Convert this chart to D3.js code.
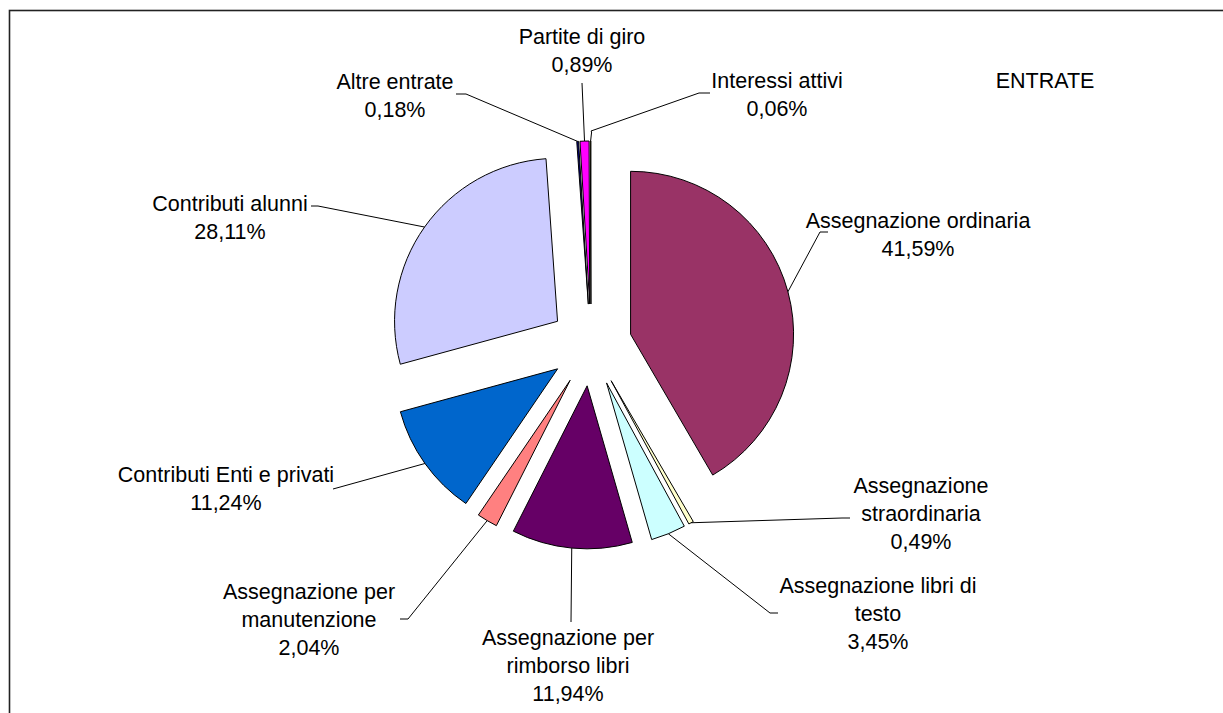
<!DOCTYPE html>
<html>
<head>
<meta charset="utf-8">
<script src="https://cdn.jsdelivr.net/npm/d3@7"></script>
<style>
    body { margin: 0; background: #fff; }
    svg { display: block; }
    text { font-family: "Liberation Sans", Arial, sans-serif; font-size: 21.5px; fill: #000; }
</style>
</head>
<body>
<svg id="chart" width="1223" height="713"></svg>
<script>

// slices, clockwise from 12 o'clock
var categories = [
    'Assegnazione ordinaria',
    'Assegnazione straordinaria',
    'Assegnazione libri di testo',
    'Assegnazione per rimborso libri',
    'Assegnazione per manutenzione',
    'Contributi Enti e privati',
    'Contributi alunni',
    'Altre entrate',
    'Partite di giro',
    'Interessi attivi'
];

var percentages = [41.59, 0.49, 3.45, 11.94, 2.04, 11.24, 28.11, 0.18, 0.89, 0.06];

var percentLabels = ['41,59%', '0,49%', '3,45%', '11,94%', '2,04%', '11,24%', '28,11%', '0,18%', '0,89%', '0,06%'];

// label text as it wraps in the picture
var labelLines = [
    ['Assegnazione ordinaria'],
    ['Assegnazione', 'straordinaria'],
    ['Assegnazione libri di', 'testo'],
    ['Assegnazione per', 'rimborso libri'],
    ['Assegnazione per', 'manutenzione'],
    ['Contributi Enti e privati'],
    ['Contributi alunni'],
    ['Altre entrate'],
    ['Partite di giro'],
    ['Interessi attivi']
];

var colors = ['#993366', '#FFFFCC', '#CCFFFF', '#660066', '#FF8080', '#0066CC', '#CCCCFF', '#000080', '#FF00FF', '#FFFF00'];

var chartTitle = 'ENTRATE';

// layout
var cx = 591, cy = 345, radius = 163, explode = 41;
var lineH = 28;

// label placement: text centre x, first baseline, leader start (near text)
var labelLayout = [
    { x: 918, y: 228, lead: [[828, 232], [820, 232]] },
    { x: 921, y: 493, lead: [[850, 518], [842, 518]] },
    { x: 878, y: 593, lead: [[778, 613], [770, 613]] },
    { x: 568, y: 645, lead: [[571, 622]] },
    { x: 309, y: 599, lead: [[400, 619], [408, 619]] },
    { x: 226, y: 482, lead: [[333, 489]] },
    { x: 230, y: 211, lead: [[311, 206], [318, 206]] },
    { x: 395, y: 89,  lead: [[456, 94], [466, 94]] },
    { x: 582, y: 44,  lead: [[582, 83]] },
    { x: 777, y: 88,  lead: [[710, 93], [699, 93], [591, 131]] }
];

var svg = d3.select('#chart');

// frame, runs off the right and bottom edge
svg.append('rect')
    .attr('x', 9.5)
    .attr('y', 10.5)
    .attr('width', 1400)
    .attr('height', 900)
    .attr('fill', 'none')
    .attr('stroke', '#222')
    .attr('stroke-width', 1.6);

var pie = d3.pie()
    .sort(null)
    .startAngle(0)
    .endAngle(2 * Math.PI)
    .value(function(d) { return d; });

var arcs = pie(percentages);

var arc = d3.arc()
    .innerRadius(0)
    .outerRadius(radius);

var midAngle = function(d) {
    return (d.startAngle + d.endAngle) / 2;
};

var offsetOf = function(d, dist) {
    var a = midAngle(d);
    return [Math.sin(a) * dist, -Math.cos(a) * dist];
};

var chart = svg.append('g')
    .attr('transform', 'translate(' + cx + ',' + cy + ')');

chart.selectAll('.slice')
    .data(arcs)
    .enter()
        .append('path')
        .attr('class', 'slice')
        .attr('d', arc)
        .attr('transform', function(d) {
            var o = offsetOf(d, explode);
            return 'translate(' + o[0] + ',' + o[1] + ')';
        })
        .attr('fill', function(d, i) { return colors[i]; })
        .attr('stroke', '#000')
        .attr('stroke-width', 1)
        .attr('stroke-linejoin', 'round');

// leader lines from label to the slice's outer edge
var line = d3.line();

svg.selectAll('.leader')
    .data(arcs)
    .enter()
        .append('path')
        .attr('class', 'leader')
        .attr('d', function(d, i) {
            var o = offsetOf(d, explode + radius);
            var pts = labelLayout[i].lead.slice();
            var end = [cx + o[0], cy + o[1]];
            if (i === 9) {
                pts.push([end[0] + 1, end[1] - 9]);
            }
            pts.push(end);
            return line(pts);
        })
        .attr('fill', 'none')
        .attr('stroke', '#000')
        .attr('stroke-width', 1);

var labels = svg.selectAll('.label')
    .data(arcs)
    .enter()
        .append('text')
        .attr('class', 'label')
        .attr('text-anchor', 'middle');

labels.each(function(d, i) {
    var t = d3.select(this);
    var lines = labelLines[i].concat([percentLabels[i]]);
    lines.forEach(function(s, k) {
        t.append('tspan')
            .attr('x', labelLayout[i].x)
            .attr('y', labelLayout[i].y + k * lineH)
            .text(s);
    });
});

svg.append('text')
    .attr('x', 1045)
    .attr('y', 88)
    .attr('text-anchor', 'middle')
    .text(chartTitle);

</script>
</body>
</html>
